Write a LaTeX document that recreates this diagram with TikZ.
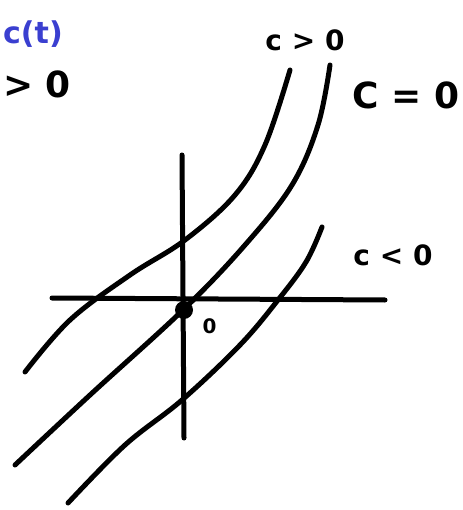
\documentclass[tikz,border=0pt]{standalone}
\usepackage{fontspec}
\setmainfont{DejaVu Sans}
\usepackage{xcolor}
\usetikzlibrary{positioning}
\definecolor{ink}{HTML}{000000}
\definecolor{penblue}{HTML}{3A3FD0}

\begin{document}
\begin{tikzpicture}[
  x=1pt, y=-1pt,
  stroke/.style={draw=ink, line width=5pt, line cap=round, line join=round},
  curvelabel/.style={font=\bfseries\fontsize{28}{28}\selectfont, text=ink, inner sep=0pt},
  axislabel/.style={font=\bfseries\fontsize{20}{20}\selectfont, text=ink, inner sep=0pt}
]
\useasboundingbox (0,0) rectangle (462,510);

% axes
\coordinate (xleft) at (52,298);
\coordinate (xright) at (385,300);
\coordinate (ytop) at (182,155);
\coordinate (ybot) at (184,438);
\draw[stroke] (xleft) -- (xright);
\draw[stroke] (ytop) -- (ybot);

% solution curves
\draw[stroke] plot[smooth, tension=0.6] coordinates {(25,372) (70,320) (130,275) (185,240) (235,195) (265,145) (290,70)};
\draw[stroke] plot[smooth, tension=0.6] coordinates {(15,465) (90,395) (183,310) (245,245) (292,185) (318,125) (330,65)};
\draw[stroke] plot[smooth, tension=0.6] coordinates {(68,503) (125,445) (182,400) (240,345) (278,300) (306,262) (322,227)};

% equilibrium point
\node[circle, fill=ink, minimum width=18pt, inner sep=0pt] (eq) at (184,310) {};
\node[axislabel, below right=2pt and 12pt of eq] (orig) {0};

% labels
\node[curvelabel] (cpos) at (305,40) {c > 0};
\node[curvelabel, font=\bfseries\fontsize{36}{36}\selectfont] (czero) at (406,95) {C = 0};
\node[curvelabel] (cneg) at (393,255) {c < 0};
\node[font=\bfseries\fontsize{30}{30}\selectfont, text=penblue, inner sep=0pt, anchor=west] (ct) at (3,34) {c(t)};
\node[font=\bfseries\fontsize{36}{36}\selectfont, text=ink, inner sep=0pt, anchor=west] (gt) at (3,84) {> 0};
\end{tikzpicture}
\end{document}
